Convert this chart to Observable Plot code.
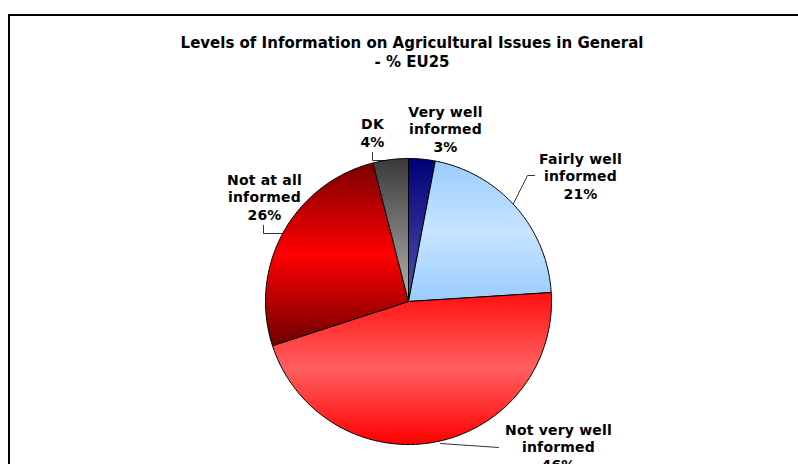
<!DOCTYPE html>
<html>
<head>
<meta charset="utf-8">
<script src="https://cdn.jsdelivr.net/npm/d3@7"></script>
<script src="https://cdn.jsdelivr.net/npm/@observablehq/plot@0.6"></script>
<style>
  html, body { margin: 0; padding: 0; background: #fff; }
  #wrap { position: relative; width: 798px; height: 464px; overflow: hidden; background: #fff; }
  #frame { position: absolute; left: 8px; top: 14px; width: 1000px; height: 1000px;
           border-left: 2px solid #000; border-top: 2px solid #000; box-sizing: border-box; }
  #title { position: absolute; left: 0; top: 34px; width: 824px; text-align: center;
           font-family: "DejaVu Sans", sans-serif; font-weight: bold; font-size: 15px; line-height: 19px; color: #000; }
  #chart { position: absolute; left: 0; top: 0; }
  #chart text { letter-spacing: 0.2px; }
</style>
</head>
<body>
<div id="wrap">
  <div id="frame"></div>
  <div id="title">Levels of Information on Agricultural Issues in General<br>- % EU25</div>
  <div id="chart"></div>
</div>
<script>
// ---- data ----
const categories = ["Very well informed", "Fairly well informed", "Not very well informed", "Not at all informed", "DK"];
const values = [3, 21, 46, 26, 4];
const labelLines = ["Very well\ninformed", "Fairly well\ninformed", "Not very well\ninformed", "Not at all\ninformed", "DK"];

// ---- layout / styles (not data) ----
const W = 798, H = 464, CX = 408, CY = 301, R = 143;
const gradIds = ["gVW", "gFW", "gNVW", "gNAA", "gDK"];
const gradStops = [
  [[0, "#000078"], [1, "#5252ac"]],
  [[0, "#99ccff"], [0.5, "#c8e4ff"], [1, "#99ccff"]],
  [[0, "#ff1010"], [0.5, "#ff6060"], [1, "#ff0000"]],
  [[0, "#7a0000"], [0.5, "#ff0000"], [1, "#6e0000"]],
  [[0, "#3a3a3a"], [1, "#b4b4b4"]]
];
// label anchor (pixel) positions: centre of the text block
const labelPos = [[445, 128], [580, 175], [558, 446], [264, 196], [372, 132]];
// leader line pixel paths
const leaderPaths = [
  null,
  [[534, 175], [527, 175], [513, 203]],
  [[440, 443], [498, 447]],
  [[263, 225], [263, 233], [284, 233]],
  [[372, 152], [372, 160], [392, 160]]
];

const ux = px => (px - CX) / R;
const uy = py => (CY - py) / R;

const arcs = d3.pie().sort(null).value(d => d)(values);
const slices = arcs.map((a, i) => {
  const pts = [{x: 0, y: 0}];
  const n = Math.max(2, Math.ceil((a.endAngle - a.startAngle) / (Math.PI / 180)));
  for (let k = 0; k <= n; k++) {
    const t = a.startAngle + (a.endAngle - a.startAngle) * k / n;
    pts.push({x: Math.sin(t), y: Math.cos(t)});
  }
  pts.push({x: 0, y: 0});
  return pts;
});

const labels = categories.map((c, i) => ({
  text: (i === 4 ? "DK" : labelLines[i]) + "\n" + values[i] + "%",
  x: ux(labelPos[i][0]), y: uy(labelPos[i][1])
}));

const leaders = [];
leaderPaths.forEach((p, i) => { if (p) p.forEach(([px, py]) => leaders.push({id: i, x: ux(px), y: uy(py)})); });

const plot = Plot.plot({
  width: W, height: H,
  margin: 0,
  x: {domain: [ux(0), ux(W)], range: [0, W], axis: null},
  y: {domain: [uy(H), uy(0)], range: [H, 0], axis: null},
  style: {background: "transparent"},
  marks: [
    Plot.line(leaders, {x: "x", y: "y", z: "id", stroke: "#333", strokeWidth: 1, curve: "linear"}),
    ...slices.map((pts, i) => Plot.line(pts, {x: "x", y: "y", fill: `url(#${gradIds[i]})`, stroke: "#000", strokeWidth: 1, strokeLinejoin: "round", curve: "linear"})),
    Plot.text(labels, {x: "x", y: "y", text: "text", fontSize: 14, fontWeight: "bold", fontFamily: "DejaVu Sans, sans-serif",
      lineHeight: 1.25, lineAnchor: "middle", textAnchor: "middle", fill: "#000"})
  ]
});

// gradient definitions
const svg = d3.select(plot);
const defs = svg.insert("defs", ":first-child");
gradIds.forEach((id, i) => {
  const g = defs.append("linearGradient").attr("id", id).attr("x1", 0).attr("y1", 0).attr("x2", 0).attr("y2", 1);
  gradStops[i].forEach(([o, c]) => g.append("stop").attr("offset", o).attr("stop-color", c));
});

document.getElementById("chart").appendChild(plot);
</script>
</body>
</html>
